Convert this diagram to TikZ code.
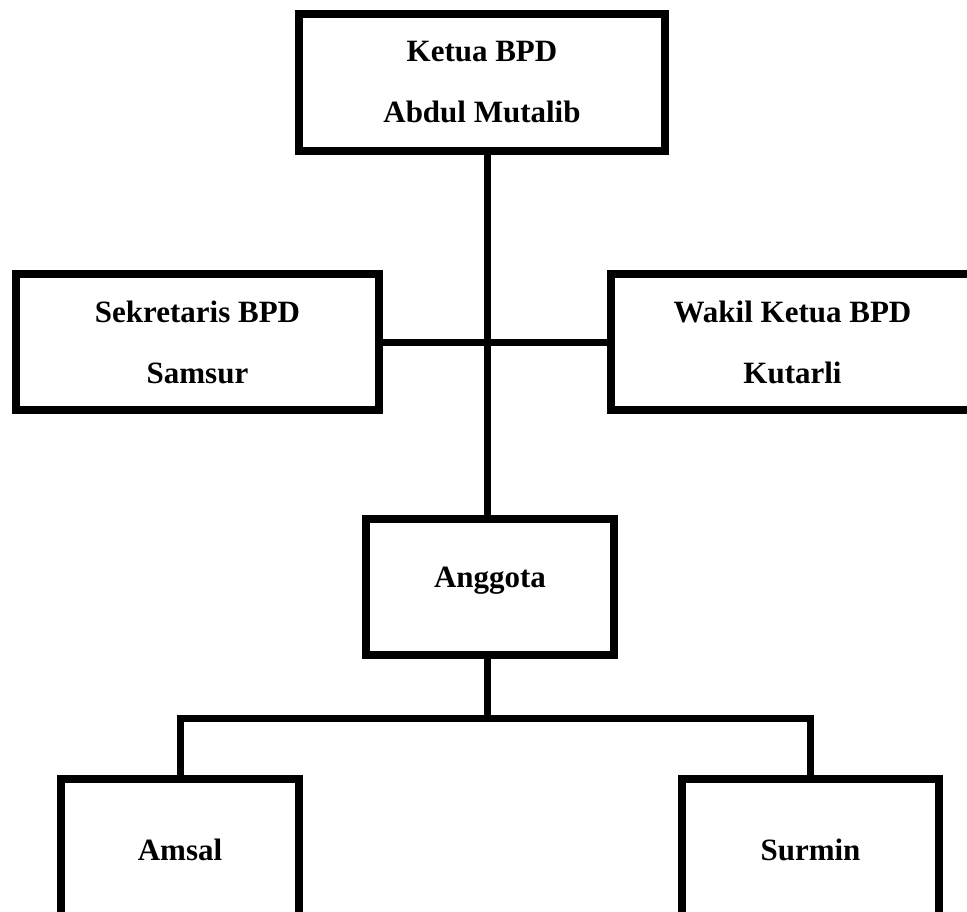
\documentclass[tikz,border=0pt]{standalone}
\usepackage{fontspec}
\setmainfont{Liberation Serif}
\usetikzlibrary{positioning}

\begin{document}
\begin{tikzpicture}[
  x=0.75pt, y=-0.75pt,
  block/.style={rectangle, draw, line width=6pt, inner sep=0pt, outer sep=0pt, align=center, font=\fontsize{23.25}{45.75}\selectfont\bfseries},
  single/.style={block, text height=6pt, text depth=6pt},
  link/.style={line width=5.25pt}
]
  \useasboundingbox (0,0) rectangle (967,911);
  \clip (0,0) rectangle (967,911);

  \node[block, minimum width=274.5pt, minimum height=102.75pt] (ketua) at (482,82.5) {Ketua BPD\\Abdul Mutalib};
  \node[block, minimum width=272.25pt, minimum height=102pt] (sekretaris) at (197.5,342) {Sekretaris BPD\\Samsur};
  \node[block, minimum width=272.25pt, minimum height=102pt, right=174pt of sekretaris] (wakil) {Wakil Ketua BPD\\Kutarli};
  \node[single, minimum width=186pt, minimum height=102pt] (anggota) at (490,587) {Anggota};
  \node[single, minimum width=178.5pt, minimum height=121.5pt] (amsal) at (180,860) {Amsal};
  \node[single, minimum width=192.75pt, minimum height=121.5pt, right=287.25pt of amsal] (surmin) {Surmin};

  \coordinate (bus) at (487,718);

  \draw[link] (ketua.south -| bus) -- (anggota.north -| bus);
  \draw[link] (sekretaris) -- (wakil);
  \draw[link] (anggota.south -| bus) -- (bus);
  \draw[link] (amsal.north) |- (bus) -| (surmin.north);
\end{tikzpicture}
\end{document}
